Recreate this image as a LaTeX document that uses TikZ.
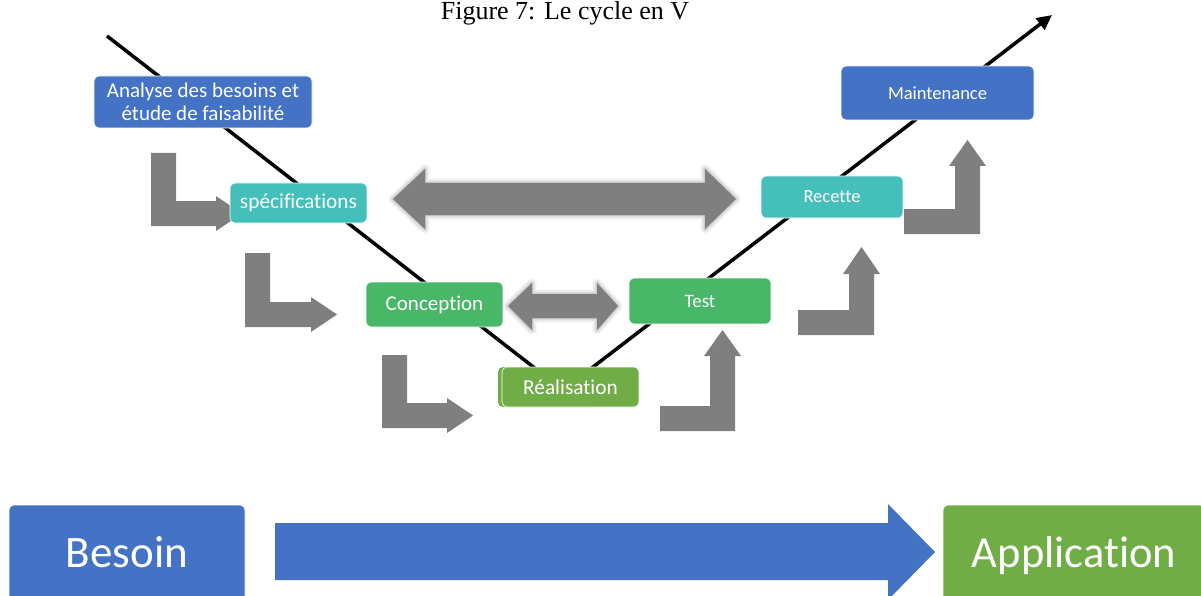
\documentclass[tikz,border=0pt]{standalone}
\usepackage{fontspec}
\setmainfont{Carlito}[Ligatures=NoCommon]
\newfontfamily\titlefont{Liberation Serif}
\usetikzlibrary{arrows.meta,shadows.blur}
\definecolor{vblue}{RGB}{68,114,196}
\definecolor{vteal}{RGB}{69,191,186}
\definecolor{vgreen}{RGB}{72,183,104}
\definecolor{vlgreen}{RGB}{112,173,71}
\definecolor{vgray}{RGB}{127,127,127}
\tikzset{
  stagebox/.style={rounded corners=5pt, draw=white, line width=0.6pt, text=white, inner sep=0pt, align=center},
  graybody/.style={fill=vgray},
  dblshadow/.style={blur shadow={shadow xshift=0pt, shadow yshift=0pt, shadow blur radius=5pt, shadow opacity=45}},
  vline/.style={line width=3.5pt, black},
}
% down-then-right L arrow: left x, top y, bottom y, head base x, tip x
\newcommand{\myLdown}[6]{%
  \fill[graybody] (#1,#2) -- (#1+25,#2) -- (#1+25,#3-25) -- (#4,#3-25) -- (#4,#3-30)
    -- (#5,#3-12.5) -- (#4,#3+5) -- (#4,#3) -- (#1,#3) -- cycle;
  \coordinate (#6) at (#5,#3-12.5);}
% right-then-up L arrow: left x, right x, bar top y, head base y, tip y
\newcommand{\myLup}[6]{%
  \fill[graybody] (#1,#3) -- (#2-25,#3) -- (#2-25,#4) -- (#2-31,#4) -- (#2-12.5,#5)
    -- (#2+6,#4) -- (#2,#4) -- (#2,#3+25) -- (#1,#3+25) -- cycle;
  \coordinate (#6) at (#2-12.5,#5);}
\begin{document}
\begin{tikzpicture}[x=1pt,y=-1pt]
\useasboundingbox (0,0) rectangle (1201,596);

% title
\node[font=\titlefont\fontsize{26}{30}\selectfont, anchor=base] (title) at (565,20) {Figure 7: Le cycle en V};

% V line
\coordinate (vstart) at (107,36);
\coordinate (vbottom) at (563,390);
\coordinate (vend) at (1052,15);
\draw[vline, -{Triangle[length=15pt,width=14pt]}] (vstart) -- (vbottom) -- (vend);

% gray L arrows
\myLdown{151}{153}{226}{216}{242}{la}
\myLdown{245}{253}{327}{311}{337}{lb}
\myLdown{382}{355}{428}{447}{473}{lc}
\myLup{660}{735}{406}{356}{330}{ld}
\myLup{798}{874}{310}{274}{247}{le}
\myLup{904}{980}{209}{166}{140}{lf}

% double arrows
\fill[vgray, dblshadow] (393,199) -- (425,169) -- (425,183) -- (705,183) -- (705,169) -- (736,199)
  -- (705,229) -- (705,215) -- (425,215) -- (425,229) -- cycle;
\fill[vgray, dblshadow] (508,306) -- (532,283) -- (532,294) -- (597,294) -- (597,283) -- (618,306)
  -- (597,330) -- (597,318) -- (532,318) -- (532,330) -- cycle;

% stage boxes
\node[stagebox, fill=vblue, minimum width=218pt, minimum height=52pt, font=\fontsize{21}{23}\selectfont] (ana) at (203,102) {Analyse des besoins et\\étude de faisabilité};
\node[stagebox, fill=vteal, minimum width=137pt, minimum height=40pt, font=\fontsize{21.3}{24}\selectfont] (spec) at (298.5,203) {spécifications};
\node[stagebox, fill=vgreen, minimum width=137pt, minimum height=45pt, font=\fontsize{21}{24}\selectfont] (conc) at (434.5,304.5) {Conception};
\fill[vlgreen, rounded corners=5pt] (498,367) rectangle (600,407);
\node[stagebox, fill=vlgreen, minimum width=137pt, minimum height=40pt, font=\fontsize{21.3}{24}\selectfont] (real) at (570.5,387) {Réalisation};
\node[stagebox, fill=vgreen, minimum width=142pt, minimum height=46pt, font=\fontsize{19}{22}\selectfont] (test) at (700,301) {Test};
\node[stagebox, fill=vteal, minimum width=142pt, minimum height=42pt, font=\fontsize{18.5}{22}\selectfont] (rec) at (832,197) {Recette};
\node[stagebox, fill=vblue, minimum width=193pt, minimum height=54pt, font=\fontsize{18.5}{22}\selectfont] (maint) at (937.5,93) {Maintenance};

% bottom row
\node[stagebox, fill=vblue, minimum width=236pt, minimum height=96pt, font=\fontsize{45}{50}\selectfont, text height=28pt, text depth=0pt] (bes) at (127,553) {Besoin};
\node[stagebox, fill=vlgreen, minimum width=262pt, minimum height=96pt, font=\fontsize{44.5}{50}\selectfont, text height=28pt, text depth=0pt] (app) at (1074,553) {Application};
\fill[vblue] (275,523) -- (888,523) -- (888,504) -- (935,552) -- (888,600) -- (888,580) -- (275,580) -- cycle;
\end{tikzpicture}
\end{document}
